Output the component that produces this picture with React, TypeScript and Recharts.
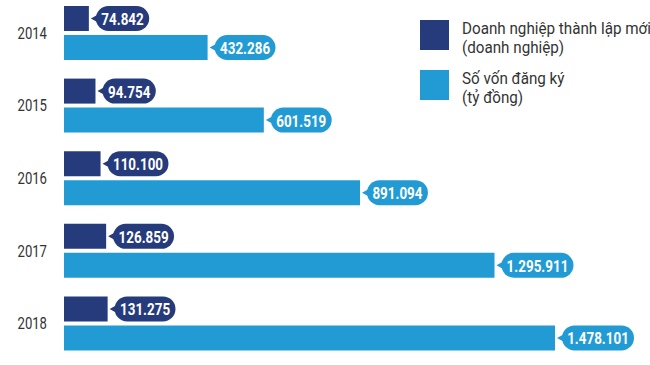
import { Bar, BarChart, LabelList, Legend, XAxis, YAxis } from "recharts";

const years = ["2014", "2015", "2016", "2017", "2018"];
const newFirms = [74842, 94754, 110100, 126859, 131275];
const capital = [432286, 601519, 891094, 1295911, 1478101];

const DARK = "#263b7b";
const LIGHT = "#229bd5";
const FONT = "Roboto, 'Noto Sans', sans-serif";
// the reference uses a condensed face; squeeze Roboto horizontally
const SQUEEZE = 0.84;

const data = years.map((year, i) => ({
  year,
  firms: newFirms[i],
  capital: capital[i],
}));

const fmt = (v: number) => String(v).replace(/\B(?=(\d{3})+(?!\d))/g, ".");

// rough width of bold 16px Roboto digits / dots, after squeezing
const textWidth = (s: string) =>
  s.split("").reduce((w, c) => w + (c === "." ? 4.2 : 9.0), 0) * SQUEEZE;

const makeCallout = (fill: string) => (props: any) => {
  const { x, y, width, height, value } = props;
  const text = fmt(Number(value));
  const tw = textWidth(text);
  const h = 25;
  const cy = y + height / 2;
  const tip = x + width + 2;
  const bx = tip + 5;
  const bw = tw + 12;
  return (
    <g>
      <path d={`M${tip},${cy} L${bx + 4},${cy - 5} L${bx + 4},${cy + 5} Z`} fill={fill} />
      <rect x={bx} y={cy - h / 2} width={bw} height={h} rx={h / 2} fill={fill} />
      <text
        transform={`translate(${bx + bw / 2},${cy + 1}) scale(${SQUEEZE},1)`}
        textAnchor="middle"
        dominantBaseline="central"
        fill="#fff"
        fontFamily={FONT}
        fontWeight="bold"
        fontSize={16}
      >
        {text}
      </text>
    </g>
  );
};

const YearTick = (props: any) => {
  const { y, payload } = props;
  return (
    <text
      transform={`translate(47,${y}) scale(0.82,1)`}
      textAnchor="end"
      dominantBaseline="central"
      fill="#333"
      fontFamily={FONT}
      fontSize={16}
    >
      {payload.value}
    </text>
  );
};

const legendItems = [
  { color: DARK, lines: ["Doanh nghiệp thành lập mới", "(doanh nghiệp)"] },
  { color: LIGHT, lines: ["Số vốn đăng ký", "(tỷ đồng)"] },
];

const LegendBox = () => (
  <div style={{ fontFamily: FONT, fontSize: 16, color: "#333", lineHeight: "19px" }}>
    {legendItems.map((item) => (
      <div key={item.color} style={{ display: "flex", alignItems: "flex-start", marginBottom: 12 }}>
        <div style={{ width: 29, height: 30, marginTop: 1, background: item.color, marginRight: 13, flex: "none" }} />
        <div style={{ transform: "scaleX(0.95)", transformOrigin: "left top", whiteSpace: "nowrap" }}>
          {item.lines.map((l) => (
            <div key={l}>{l}</div>
          ))}
        </div>
      </div>
    ))}
  </div>
);

export default function App() {
  return (
    <div style={{ position: "absolute", left: 0, top: 0, background: "#fff" }}>
      <BarChart
        width={650}
        height={365}
        data={data}
        layout="vertical"
        margin={{ top: -3, right: 0, bottom: 5, left: 0 }}
        barCategoryGap={9}
        barGap={4}
      >
        <XAxis type="number" hide domain={[0, 1764000]} />
        <YAxis
          type="category"
          dataKey="year"
          width={64}
          axisLine={false}
          tickLine={false}
          tick={<YearTick />}
        />
        <Legend
          layout="horizontal"
          verticalAlign="middle"
          align="center"
          content={<LegendBox />}
          wrapperStyle={{ position: "absolute", left: 420, top: 19, width: 230 }}
        />
        <Bar dataKey="firms" fill={DARK} isAnimationActive={false}>
          <LabelList dataKey="firms" content={makeCallout(DARK)} />
        </Bar>
        <Bar dataKey="capital" fill={LIGHT} isAnimationActive={false}>
          <LabelList dataKey="capital" content={makeCallout(LIGHT)} />
        </Bar>
      </BarChart>
    </div>
  );
}
